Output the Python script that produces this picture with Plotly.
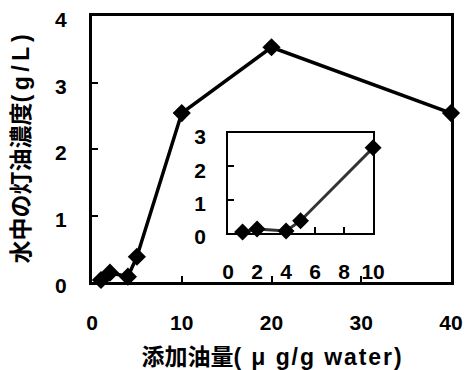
import plotly.graph_objects as go

# Main data
x_main = [1, 2, 4, 5, 10, 20, 40]
y_main = [0.03, 0.14, 0.08, 0.38, 2.54, 3.53, 2.54]
# Inset data
x_inset = [1, 2, 4, 5, 10]
y_inset = [0.03, 0.12, 0.06, 0.37, 2.56]

main_xticks = [0, 10, 20, 30, 40]
main_yticks = [0, 1, 2, 3, 4]
inset_xticks = [0, 2, 4, 6, 8, 10]
inset_yticks = [0, 1, 2, 3]

x_title_cjk = "添加油量"
x_title_unit = "( μ g/g water)"
y_title_cjk = "水中の灯油濃度"
y_title_unit = "(g/L)"


def spaced(s, gap="\u2009"):
    # letter-spaced latin text, as in the reference
    return gap.join(s)


x_title = x_title_cjk + spaced(x_title_unit, "\u200a")
y_title = y_title_cjk + spaced(y_title_unit, "\u2009")

num_font = dict(family="Liberation Sans, Arial", size=21, color="black", weight="bold")
title_font = dict(family="Liberation Sans, Noto Sans CJK JP", size=23, color="black", weight="bold")

fig = go.Figure()
fig.add_trace(go.Scatter(x=x_main, y=y_main, mode="lines+markers",
                         line=dict(color="black", width=3.5),
                         marker=dict(symbol="diamond", size=14, color="black"),
                         xaxis="x", yaxis="y", showlegend=False, cliponaxis=False,
                         hoverinfo="skip"))
fig.add_trace(go.Scatter(x=x_inset, y=y_inset, mode="lines+markers",
                         line=dict(color="#333333", width=3),
                         marker=dict(symbol="diamond", size=13, color="black"),
                         xaxis="x2", yaxis="y2", showlegend=False, cliponaxis=False,
                         hoverinfo="skip"))

axis_common = dict(showgrid=False, zeroline=False, showline=True, linecolor="black",
                   mirror=True, ticks="inside", ticklen=6, tickwidth=2, tickcolor="black",
                   tickfont=num_font, automargin=False, ticklabeloverflow="allow")

fig.update_layout(
    width=471, height=370,
    margin=dict(l=92, r=20, t=16, b=88, autoexpand=False),
    paper_bgcolor="white", plot_bgcolor="white",
    xaxis=dict(axis_common, range=[0, 40], tickvals=main_xticks, linewidth=3,
               ticklabelstandoff=20,
               title=dict(text=x_title, font=title_font, standoff=21)),
    yaxis=dict(axis_common, range=[0, 4], tickvals=main_yticks, linewidth=3,
               ticklabelstandoff=18, ticklabelshift=4,
               title=dict(text=y_title, font=title_font, standoff=20)),
    xaxis2=dict(axis_common, range=[0, 10], tickvals=inset_xticks, linewidth=2,
                domain=[0.379, 0.783], anchor="y2", ticklabelstandoff=19),
    yaxis2=dict(axis_common, range=[0, 3], tickvals=inset_yticks, linewidth=2,
                domain=[0.184, 0.560], anchor="x2", ticklabelstandoff=16, ticklabelshift=4),
)

# remove the browser's default 8px body margin so the figure fills the window exactly
fig.write_html("out.html", config={"displayModeBar": False},
               post_script="document.body.style.margin='0';")
